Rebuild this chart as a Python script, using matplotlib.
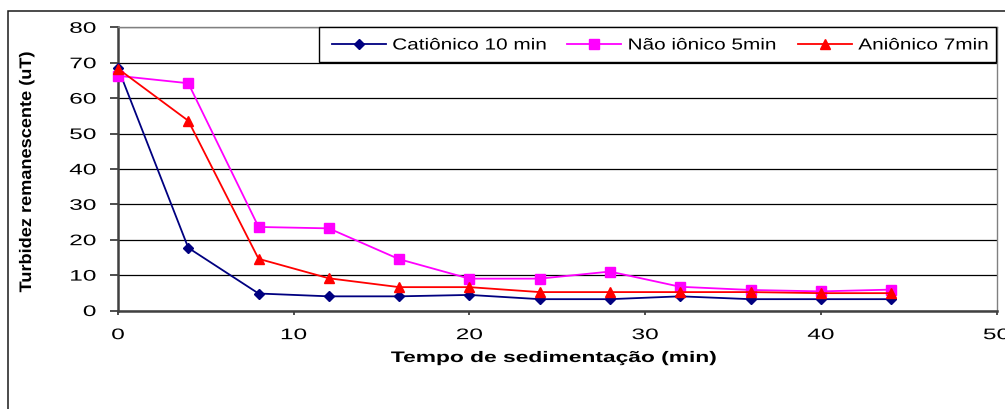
import matplotlib
matplotlib.use("Agg")
import matplotlib.pyplot as plt
from matplotlib.patches import Rectangle
from matplotlib.patheffects import AbstractPathEffect
from matplotlib.transforms import Affine2D

tempo = [0, 4, 8, 12, 16, 20, 24, 28, 32, 36, 40, 44]
cationico = [68.5, 17.7, 4.8, 4.0, 4.0, 4.4, 3.2, 3.2, 4.0, 3.2, 3.2, 3.2]
nao_ionico = [66.3, 64.2, 23.6, 23.2, 14.5, 9.0, 9.0, 11.0, 6.7, 5.8, 5.4, 5.9]
anionico = [68.3, 53.6, 14.6, 9.1, 6.6, 6.6, 5.2, 5.2, 5.2, 5.2, 4.9, 4.9]
labels = ["Catiônico 10 min", "Não iônico 5min", "Aniônico 7min"]
x_ticks = [0, 10, 20, 30, 40, 50]
y_ticks = [0, 10, 20, 30, 40, 50, 60, 70, 80]
x_title = "Tempo de sedimentação (min)"
y_title = "Turbidez remanescente (uT)"


class Stretch(AbstractPathEffect):
    """Horizontally stretch the glyphs of a text (Excel-like scaled font)."""

    def __init__(self, sx, pivot='left'):
        super().__init__()
        self.sx = sx
        self.pivot = pivot

    def draw_path(self, renderer, gc, tpath, affine, rgbFace=None):
        ext = tpath.get_extents()
        if self.pivot == 'left':
            p = 0.0
        elif self.pivot == 'center':
            p = (ext.x0 + ext.x1) / 2
        else:
            p = ext.x1
        pre = Affine2D().translate(-p, 0).scale(self.sx, 1).translate(p, 0)
        renderer.draw_path(gc, tpath, pre + affine, rgbFace)


plt.rcParams['font.family'] = ['Liberation Sans', 'DejaVu Sans']

W, H = 1005, 410
fig = plt.figure(figsize=(W / 100, H / 100), dpi=100)
L, R, T, B = 118, 996.5, 28.3, 311.5
ax = fig.add_axes([L / W, 1 - B / H, (R - L) / W, (B - T) / H])

# outer chart frame (top & left visible)
fig.patches.append(Rectangle((7.5 / W, -0.1), 1.2, (H - 11.7) / H + 0.1,
                             transform=fig.transFigure, fill=False,
                             edgecolor='#1a1a1a', linewidth=1.1))

l1, = ax.plot(tempo, cationico, color='#000080', marker='D', markersize=5.6,
              linewidth=1.3, zorder=4, clip_on=False)
l2, = ax.plot(tempo, nao_ionico, color='#FF00FF', marker='s', markersize=6.8,
              linewidth=1.3, zorder=5, clip_on=False)
l3, = ax.plot(tempo, anionico, color='#FF0000', marker='^', markersize=7.8,
              linewidth=1.3, zorder=6, clip_on=False)

ax.set_xlim(0, 50)
ax.set_ylim(0, 80)
ax.set_xticks(x_ticks)
ax.set_yticks(y_ticks)
ax.yaxis.grid(True, color='black', linewidth=0.9)
ax.set_axisbelow(True)

for s in ['left', 'bottom']:
    ax.spines[s].set_color('#404040')
    ax.spines[s].set_linewidth(1.8)
for s in ['top', 'right']:
    ax.spines[s].set_color('#808080')
    ax.spines[s].set_linewidth(1.0)

ax.tick_params(axis='y', direction='out', length=5.8, width=1.3, color='#404040',
               labelsize=11, pad=10)
ax.tick_params(axis='x', direction='out', length=3.2, width=1.3, color='#404040',
               labelsize=11, pad=9.5)
for lab in ax.get_xticklabels():
    lab.set_path_effects([Stretch(1.6, 'center')])
for lab in ax.get_yticklabels():
    lab.set_path_effects([Stretch(1.6, 'right')])

xl = ax.set_xlabel(x_title, fontsize=11, fontweight='bold')
xl.set_path_effects([Stretch(1.49, 'center')])
ax.xaxis.set_label_coords((554 - L) / (R - L), (B - 352) / (B - T))

yl = ax.set_ylabel(y_title, fontsize=12, fontweight='bold')
yl.set_path_effects([Stretch(1.09, 'center')])
ax.yaxis.set_label_coords((34 - L) / (R - L), (B - 173.5) / (B - T))

# legend
ax.add_artist(Rectangle((319 / W, 1 - 63 / H), (996 - 319) / W, 35 / H,
                        transform=fig.transFigure, facecolor='white',
                        edgecolor='black', linewidth=1.0, zorder=7,
                        clip_on=False))
leg = ax.legend([l1, l2, l3], labels, loc='center left', ncol=3,
                bbox_to_anchor=(331.5 / W, 1 - 46 / H),
                bbox_transform=fig.transFigure, frameon=False,
                fontsize=11.5, handlelength=3.4, handletextpad=0.4,
                columnspacing=3.47, borderpad=0, borderaxespad=0)
leg.set_zorder(8)
for t in leg.get_texts():
    t.set_path_effects([Stretch(1.3, 'left')])

fig.savefig("out.png", dpi=100, facecolor='white')
